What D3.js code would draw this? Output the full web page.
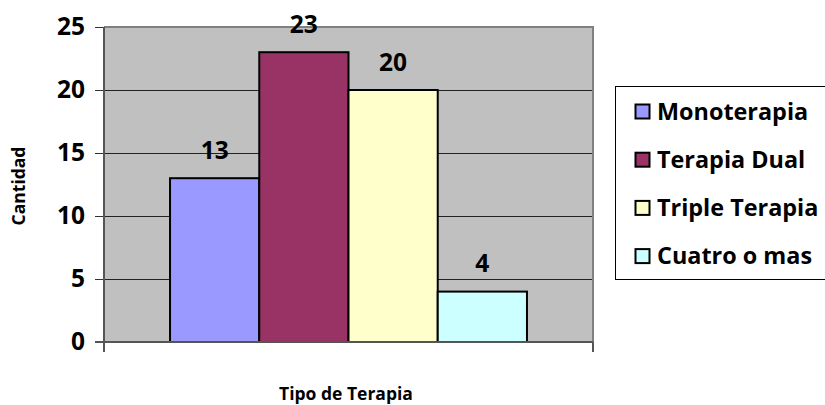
<!DOCTYPE html>
<html>
<head>
<meta charset="utf-8">
<script src="https://cdn.jsdelivr.net/npm/d3@7/dist/d3.min.js"></script>
<style>
  html, body { margin: 0; padding: 0; background: #ffffff; }
  svg { display: block; }
  text { font-family: "Open Sans", Lato, sans-serif; font-weight: 700; fill: #000; }
</style>
</head>
<body>
<svg id="chart" width="825" height="405"></svg>
<script>
// ---- data ----
const categories = [""];
const seriesNames = ["Monoterapia", "Terapia Dual", "Triple Terapia", "Cuatro o mas"];
const seriesValues = [13, 23, 20, 4];
const seriesColors = ["#9999FF", "#993366", "#FFFFCC", "#CCFFFF"];
const yTicks = [0, 5, 10, 15, 20, 25];
const yTitle = "Cantidad";
const xTitle = "Tipo de Terapia";

const svg = d3.select("#chart");
const plot = { left: 104, right: 593, top: 27, bottom: 342 };

const y = d3.scaleLinear().domain([0, 25]).range([plot.bottom, plot.top]);
const x0 = d3.scaleBand().domain(categories).range([plot.left, plot.right])
  .paddingInner(0).paddingOuter(0.185);
const x1 = d3.scaleBand().domain(seriesNames).range([0, x0.bandwidth()]).padding(0);
const color = d3.scaleOrdinal().domain(seriesNames).range(seriesColors);

// plot background
svg.append("rect")
  .attr("x", plot.left).attr("y", plot.top)
  .attr("width", plot.right - plot.left).attr("height", plot.bottom - plot.top)
  .attr("fill", "#C0C0C0");

// gridlines
svg.append("g").selectAll("line")
  .data(yTicks.filter(t => t > 0 && t < 25))
  .join("line")
  .attr("x1", plot.left).attr("x2", plot.right)
  .attr("y1", d => Math.round(y(d)) + 0.5).attr("y2", d => Math.round(y(d)) + 0.5)
  .attr("stroke", "#222").attr("stroke-width", 1);

// plot border top & right (gray)
svg.append("path")
  .attr("d", `M${plot.left},${plot.top} H${plot.right} V${plot.bottom}`)
  .attr("fill", "none").attr("stroke", "#808080").attr("stroke-width", 2);

// bars
const gBars = svg.append("g");
categories.forEach(cat => {
  const rows = seriesNames.map((s, i) => ({ s, v: seriesValues[i] }));
  gBars.selectAll("rect.bar")
    .data(rows)
    .join("rect")
    .attr("class", "bar")
    .attr("x", d => x0(cat) + x1(d.s))
    .attr("y", d => y(d.v))
    .attr("width", x1.bandwidth())
    .attr("height", d => y(0) - y(d.v))
    .attr("fill", d => color(d.s))
    .attr("stroke", "#000").attr("stroke-width", 2);

  gBars.selectAll("text.lbl")
    .data(rows)
    .join("text")
    .attr("class", "lbl")
    .attr("x", d => x0(cat) + x1(d.s) + x1.bandwidth() / 2)
    .attr("y", d => y(d.v) - 19.5)
    .attr("text-anchor", "middle")
    .attr("font-size", 24.5)
    .text(d => d.v);
});

// y axis
const yAxis = d3.axisLeft(y).tickValues(yTicks).tickSizeInner(9).tickSizeOuter(0).tickPadding(10);
const gy = svg.append("g").attr("transform", `translate(${plot.left},0)`).call(yAxis);
gy.select(".domain").remove();
gy.selectAll(".tick line").attr("stroke", "#333");
gy.selectAll(".tick text").attr("font-size", 24.5).attr("font-family", "'Open Sans', sans-serif").attr("font-weight", 700).attr("fill", "#000");
// y axis line (extends below to category tick length)
svg.append("line")
  .attr("x1", plot.left).attr("x2", plot.left)
  .attr("y1", plot.top).attr("y2", plot.bottom + 10)
  .attr("stroke", "#555").attr("stroke-width", 2);

// x axis line and category boundary ticks
svg.append("line")
  .attr("x1", plot.left - 9).attr("x2", plot.right)
  .attr("y1", plot.bottom).attr("y2", plot.bottom)
  .attr("stroke", "#555").attr("stroke-width", 2);
svg.append("g").selectAll("line")
  .data(x0.range())
  .join("line")
  .attr("x1", d => d).attr("x2", d => d)
  .attr("y1", plot.bottom).attr("y2", plot.bottom + 10)
  .attr("stroke", "#555").attr("stroke-width", 2);

// axis titles
svg.append("text")
  .attr("transform", "translate(25,186) rotate(-90)")
  .attr("text-anchor", "middle")
  .attr("font-size", 17.5)
  .text(yTitle);
svg.append("text")
  .attr("x", 346).attr("y", 400)
  .attr("text-anchor", "middle")
  .attr("font-size", 17.5)
  .text(xTitle);

// legend
const lg = svg.append("g");
lg.append("rect")
  .attr("x", 615.5).attr("y", 86.5).attr("width", 210).attr("height", 193)
  .attr("fill", "#fff").attr("stroke", "#000").attr("stroke-width", 1);
const items = lg.selectAll("g.item")
  .data(seriesNames)
  .join("g")
  .attr("class", "item")
  .attr("transform", (d, i) => `translate(635,${111.5 + i * 48.2})`);
items.append("rect")
  .attr("x", 0.5).attr("y", -7).attr("width", 14).attr("height", 14)
  .attr("fill", d => color(d)).attr("stroke", "#000").attr("stroke-width", 2);
items.append("text")
  .attr("x", 22).attr("y", 8)
  .attr("font-size", 23.4)
  .text(d => d);
</script>
</body>
</html>
